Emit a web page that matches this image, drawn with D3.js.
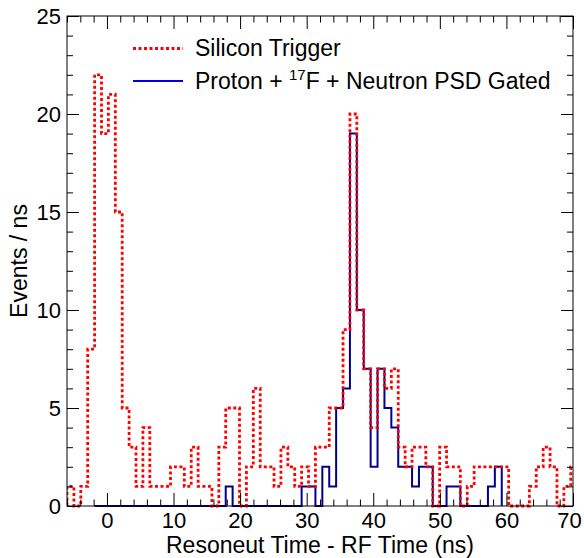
<!DOCTYPE html>
<html>
<head>
<meta charset="utf-8">
<script src="https://cdn.jsdelivr.net/npm/d3@7"></script>
<style>
  body { margin: 0; background: #fff; }
  svg { font-family: "Liberation Sans", Arial, Helvetica, sans-serif; }
</style>
</head>
<body>
<script>
// bin layout (ns)
const histStart = -6;
const binWidth = 1.0365;
const blueFirstBin = 4;

// Silicon Trigger, events per bin
const siliconCounts = [1,0,1,8,22,19,21,15,5,3, 1,4,1,1,1,2,2,1,3,1,
  1,0,3,5,5,0,2,6,2,2, 1,3,2,1,2,1,3,3,5,5, 9,20,10,7,4,7,6,7,3,2,
  3,3,2,0,3,2,2,0,1,2, 2,2,2,2,0,0,0,1,2,3, 2,0,1,2];

// Proton + 17F + Neutron PSD gated, starts at bin blueFirstBin
const gatedCounts = [0,0,0,0,0,0,0,0,0,0, 0,0,0,0,0,0,0,0,0, 1,
  0,0,0,0,0,0,0,0,0,0,
  1,1,0,2,1,5,6,19,10,7, 2,7,5,4,2,2,1,2,2,0, 0,1,1,0,0,0,0,1,2];

const xMajor = [0, 10, 20, 30, 40, 50, 60, 70];
const yMajor = [0, 5, 10, 15, 20, 25];
const legendLabels = ["Silicon Trigger", "Proton + ", "17", "F + Neutron PSD Gated"];

var width = 584, height = 558;
var fL = 67, fR = 573, fT = 16, fB = 506;

var svg = d3.select("body").append("svg").attr("width", width).attr("height", height);

var x = d3.scaleLinear().domain([-6, 70]).range([fL, fR]);
var y = d3.scaleLinear().domain([0, 25]).range([fB, fT]);

svg.append("clipPath").attr("id", "frameclip")
  .append("rect").attr("x", fL).attr("y", fT - 3)
  .attr("width", fR - fL).attr("height", fB - fT + 6);

// step outline the way ROOT draws a histogram
function histPoints(counts, firstBin) {
  var pts = [];
  var e0 = histStart + firstBin * binWidth;
  pts.push([e0, 0]);
  counts.forEach(function (c, i) {
    pts.push([e0 + i * binWidth, c]);
    pts.push([e0 + (i + 1) * binWidth, c]);
  });
  pts.push([e0 + counts.length * binWidth, 0]);
  return pts;
}

var line = d3.line()
  .x(function (d) { return x(d[0]); })
  .y(function (d) { return y(d[1]); });

var plot = svg.append("g").attr("clip-path", "url(#frameclip)");

plot.append("path")
  .attr("d", line(histPoints(gatedCounts, blueFirstBin)))
  .attr("fill", "none")
  .attr("stroke", "#00008f")
  .attr("stroke-width", 2);

plot.append("path")
  .attr("d", line(histPoints(siliconCounts, 0)))
  .attr("fill", "none")
  .attr("stroke", "#ff0000")
  .attr("stroke-width", 2.8)
  .attr("stroke-dasharray", "3,2.5");

// frame
svg.append("rect")
  .attr("x", fL).attr("y", fT)
  .attr("width", fR - fL).attr("height", fB - fT)
  .attr("fill", "none").attr("stroke", "#000").attr("stroke-width", 1);

var xMinor = d3.range(-6, 71, 2).filter(function (v) { return xMajor.indexOf(v) < 0; });
var yMinor = d3.range(0, 26, 1).filter(function (v) { return yMajor.indexOf(v) < 0; });

function styleAxis(g) {
  g.select(".domain").remove();
  g.selectAll("line").attr("stroke", "#000");
  g.selectAll("text").attr("fill", "#000").style("font-size", "22px");
}

var xAxisG = svg.append("g").attr("transform", "translate(0," + fB + ")")
  .call(d3.axisBottom(x).tickValues(xMajor).tickSize(-13).tickPadding(6))
  .call(styleAxis);
// last label sits against the page edge
xAxisG.selectAll("text").filter(function (d) { return d === 70; }).attr("dx", -4);

svg.append("g").attr("transform", "translate(0," + fB + ")")
  .call(d3.axisBottom(x).tickValues(xMinor).tickSize(-6.5).tickFormat(""))
  .call(styleAxis);
svg.append("g").attr("transform", "translate(0," + fT + ")")
  .call(d3.axisTop(x).tickValues(xMajor).tickSize(-13).tickFormat(""))
  .call(styleAxis);
svg.append("g").attr("transform", "translate(0," + fT + ")")
  .call(d3.axisTop(x).tickValues(xMinor).tickSize(-6.5).tickFormat(""))
  .call(styleAxis);

svg.append("g").attr("transform", "translate(" + fL + ",0)")
  .call(d3.axisLeft(y).tickValues(yMajor).tickSize(-12).tickPadding(6))
  .call(styleAxis);
svg.append("g").attr("transform", "translate(" + fL + ",0)")
  .call(d3.axisLeft(y).tickValues(yMinor).tickSize(-6).tickFormat(""))
  .call(styleAxis);
svg.append("g").attr("transform", "translate(" + fR + ",0)")
  .call(d3.axisRight(y).tickValues(yMajor).tickSize(-12).tickFormat(""))
  .call(styleAxis);
svg.append("g").attr("transform", "translate(" + fR + ",0)")
  .call(d3.axisRight(y).tickValues(yMinor).tickSize(-6).tickFormat(""))
  .call(styleAxis);

// axis titles
svg.append("text")
  .attr("x", (fL + fR) / 2).attr("y", 553)
  .attr("text-anchor", "middle")
  .style("font-size", "23px")
  .text("Resoneut Time - RF Time (ns)");

svg.append("text")
  .attr("transform", "translate(27," + (fT + fB) / 2 + ") rotate(-90)")
  .attr("text-anchor", "middle")
  .style("font-size", "23px")
  .text("Events / ns");

// legend
var leg = svg.append("g");
leg.append("line")
  .attr("x1", 133).attr("x2", 183).attr("y1", 48.5).attr("y2", 48.5)
  .attr("stroke", "#ff0000").attr("stroke-width", 2.8)
  .attr("stroke-dasharray", "3,2.5");
leg.append("text").attr("x", 195).attr("y", 56)
  .style("font-size", "23px")
  .text(legendLabels[0]);

leg.append("line")
  .attr("x1", 133).attr("x2", 183).attr("y1", 81).attr("y2", 81)
  .attr("stroke", "#0000e6").attr("stroke-width", 2);
var t2 = leg.append("text").attr("x", 195).attr("y", 88.5)
  .style("font-size", "23px");
t2.append("tspan").text(legendLabels[1]);
t2.append("tspan").attr("dy", -9).style("font-size", "15px").text(legendLabels[2]);
t2.append("tspan").attr("dy", 9).text(legendLabels[3]);
</script>
</body>
</html>
